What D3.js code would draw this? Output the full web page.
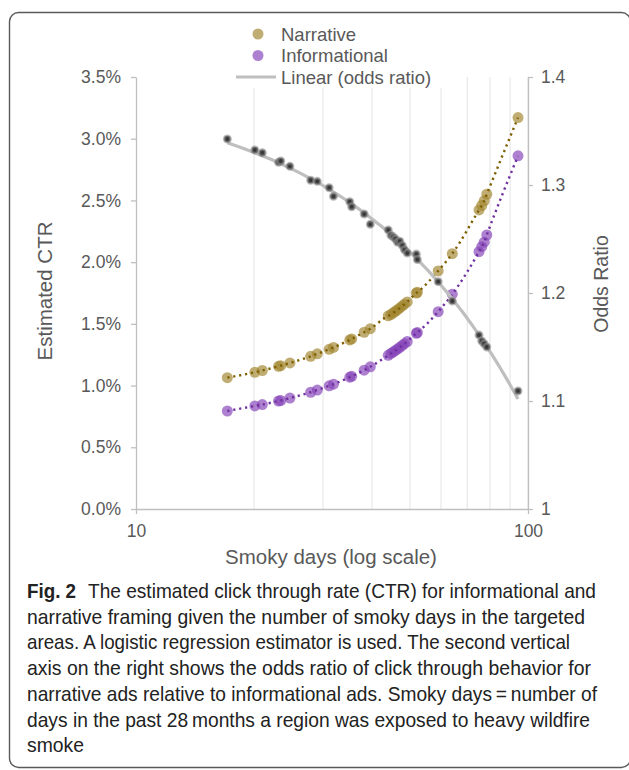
<!DOCTYPE html>
<html><head><meta charset="utf-8">
<script src="https://cdn.jsdelivr.net/npm/d3@7"></script>
<style>
body{margin:0;background:#fff}
svg text{font-family:"Liberation Sans",Arial,sans-serif}
</style>
</head><body>
<svg id="c" width="629" height="770"></svg>
<script>
// ---- data ----
const smokyDays = [17.1, 20.1, 21.0, 23.1, 23.4, 24.7, 27.9, 29.0, 31.1, 31.9, 35.1, 35.5, 38.2, 39.6,
  44.0, 44.7, 45.3, 45.9, 46.5, 47.1, 47.8, 48.4, 49.2, 51.9, 52.2, 59.0, 64.1, 75.0, 76.2, 77.3, 78.5, 94.3];
const narrativeCTR = [1.064, 1.108, 1.122, 1.156, 1.161, 1.183, 1.237, 1.257, 1.294, 1.309, 1.370, 1.378, 1.432, 1.461,
  1.565, 1.575, 1.589, 1.602, 1.615, 1.629, 1.645, 1.659, 1.678, 1.750, 1.756, 1.929, 2.069, 2.423, 2.459, 2.497, 2.550, 3.171];
const informationalCTR = [0.794, 0.835, 0.846, 0.875, 0.879, 0.899, 0.946, 0.964, 0.998, 1.011, 1.068, 1.075, 1.125, 1.152,
  1.245, 1.260, 1.272, 1.285, 1.297, 1.310, 1.325, 1.339, 1.357, 1.424, 1.430, 1.599, 1.740, 2.085, 2.125, 2.162, 2.220, 2.861];
const oddsRatio = [1.3426, 1.3324, 1.3299, 1.3210, 1.3222, 1.3173, 1.3044, 1.3034, 1.2975, 1.2895, 1.2845, 1.2799, 1.2731, 1.2636,
  1.2583, 1.2535, 1.2520, 1.2500, 1.2470, 1.2480, 1.2440, 1.2400, 1.2370, 1.2360, 1.2310, 1.2105, 1.1926, 1.1610, 1.1556, 1.1530, 1.1500, 1.1093];
const ctrTicks = [0, 0.5, 1.0, 1.5, 2.0, 2.5, 3.0, 3.5];
const oddsTicks = [1, 1.1, 1.2, 1.3, 1.4];
const xTickLabels = [10, 100];
const xGrid = [20, 30, 40, 50, 60, 70, 80, 90, 100];
const legendLabels = ["Narrative", "Informational", "Linear (odds ratio)"];
const captionLines = [
  "narrative framing given the number of smoky days in the targeted",
  "areas. A logistic regression estimator is used. The second vertical",
  "axis on the right shows the odds ratio of click through behavior for",
  "narrative ads relative to informational ads. Smoky days\u2009=\u2009number of",
  "days in the past 28\u2009months a region was exposed to heavy wildfire",
  "smoke"
];
const captionFirstBold = "Fig. 2";
const captionFirstRest = "The estimated click through rate (CTR) for informational and";

// ---- drawing ----
const svg = d3.select("#c");
const TXT = "#595959", AX = "#BFBFBF";
const x = d3.scaleLog().domain([10, 100]).range([136, 528]);
const yL = d3.scaleLinear().domain([0, 3.5]).range([509, 77]);
const yR = d3.scaleLinear().domain([1, 1.4]).range([509, 77]);

// frame
svg.append("rect").attr("x", 9.5).attr("y", 12.5).attr("width", 621).attr("height", 755)
  .attr("rx", 9).attr("fill", "none").attr("stroke", "#5a5a5a").attr("stroke-width", 1.4);

// grid
svg.append("g").selectAll("line").data(xGrid).join("line")
  .attr("x1", d => x(d)).attr("x2", d => x(d)).attr("y1", yL(3.5)).attr("y2", yL(0))
  .attr("stroke", "#EAEAEA").attr("stroke-width", 1.3);

// axes
function styleAxis(g) {
  g.select(".domain").attr("stroke", AX).attr("stroke-width", 1.3);
  g.selectAll(".tick line").attr("stroke", AX).attr("stroke-width", 1.3);
  g.selectAll(".tick text").attr("fill", TXT).attr("font-size", 17.5)
    .attr("font-family", "Liberation Sans, Arial, sans-serif");
}
svg.append("g").attr("transform", "translate(136,0)")
  .call(d3.axisLeft(yL).tickValues(ctrTicks).tickFormat(d => d.toFixed(1) + "%").tickSize(5).tickSizeOuter(0).tickPadding(10))
  .call(styleAxis);
svg.append("g").attr("transform", "translate(528,0)")
  .call(d3.axisRight(yR).tickValues(oddsTicks).tickFormat(d => d === 1 ? "1" : d.toFixed(1)).tickSize(5).tickSizeOuter(0).tickPadding(8))
  .call(styleAxis);
svg.append("g").attr("transform", "translate(0,509)")
  .call(d3.axisBottom(x).tickValues(xTickLabels).tickFormat(d3.format("d")).tickSize(5).tickSizeOuter(0).tickPadding(11))
  .call(styleAxis);

// axis titles
svg.append("text").attr("x", 331).attr("y", 564).attr("text-anchor", "middle")
  .attr("font-size", 20.5).attr("fill", TXT).text("Smoky days (log scale)");
svg.append("text").attr("transform", "translate(52,291) rotate(-90)").attr("text-anchor", "middle")
  .attr("font-size", 20.5).attr("fill", TXT).text("Estimated CTR");
svg.append("text").attr("transform", "translate(608,284) rotate(-90)").attr("text-anchor", "middle")
  .attr("font-size", 19.5).attr("fill", TXT).text("Odds Ratio");

const rows = smokyDays.map((d, i) => ({ d, n: narrativeCTR[i], inf: informationalCTR[i], or: oddsRatio[i] }))
  .sort((a, b) => a.d - b.d);

// points
const NCOL = "#A28630", ICOL = "#8645B8";
svg.append("g").selectAll("circle").data(rows).join("circle")
  .attr("cx", r => x(r.d)).attr("cy", r => yL(r.n)).attr("r", 5.5).attr("fill", NCOL).attr("fill-opacity", 0.68);
svg.append("g").selectAll("circle").data(rows).join("circle")
  .attr("cx", r => x(r.d)).attr("cy", r => yL(r.inf)).attr("r", 5.5).attr("fill", ICOL).attr("fill-opacity", 0.68);

// dotted model lines
const lineN = d3.line().x(r => x(r.d)).y(r => yL(r.n)).curve(d3.curveMonotoneX);
const lineI = d3.line().x(r => x(r.d)).y(r => yL(r.inf)).curve(d3.curveMonotoneX);
svg.append("path").attr("d", lineN(rows)).attr("fill", "none").attr("stroke", "#7F6000")
  .attr("stroke-width", 2.4).attr("stroke-dasharray", "2.2,3.8");
svg.append("path").attr("d", lineI(rows)).attr("fill", "none").attr("stroke", "#7030A0")
  .attr("stroke-width", 2.4).attr("stroke-dasharray", "2.2,3.8");

// linear trendline of odds ratio (least squares on the odds data)
const mx = d3.mean(rows, r => r.d), my = d3.mean(rows, r => r.or);
const slope = d3.sum(rows, r => (r.d - mx) * (r.or - my)) / d3.sum(rows, r => (r.d - mx) ** 2);
const icpt = my - slope * mx;
const dMin = d3.min(rows, r => r.d), dMax = d3.max(rows, r => r.d);
const trendPts = d3.range(0, 81).map(k => dMin + (dMax - dMin) * k / 80);
svg.append("path")
  .attr("d", d3.line().x(d => x(d)).y(d => yR(icpt + slope * d))(trendPts))
  .attr("fill", "none").attr("stroke", "#BFBFBF").attr("stroke-width", 3.2);

// odds points
svg.append("g").selectAll("circle").data(rows).join("circle")
  .attr("cx", r => x(r.d)).attr("cy", r => yR(r.or)).attr("r", 3.2)
  .attr("fill", "#383838").attr("stroke", "#8c8c8c").attr("stroke-opacity", 0.6).attr("stroke-width", 2.6);

// legend
const lg = svg.append("g");
lg.append("rect").attr("x", 228).attr("y", 20).attr("width", 215).attr("height", 68).attr("fill", "#fff");
lg.append("circle").attr("cx", 258).attr("cy", 34).attr("r", 5.5).attr("fill", NCOL).attr("fill-opacity", 0.68);
lg.append("circle").attr("cx", 258).attr("cy", 55.5).attr("r", 5.5).attr("fill", ICOL).attr("fill-opacity", 0.68);
lg.append("line").attr("x1", 236).attr("x2", 276).attr("y1", 77).attr("y2", 77).attr("stroke", "#BFBFBF").attr("stroke-width", 3.2);
lg.selectAll("text").data(legendLabels).join("text")
  .attr("x", 281).attr("y", (d, i) => 40.5 + i * 21.5).attr("font-size", 18.5).attr("fill", TXT).text(d => d);

// caption (condensed look: smaller font stretched vertically)
const CF = "'Noto Sans', 'Open Sans', sans-serif";
const CS = 16.5, SY = 1.22;
const capEnds = [585, 570, 591, 597, 590, 84];
function capText(xp, yp, w, bold, t) {
  svg.append("text").attr("transform", `translate(${xp},${yp}) scale(1,${SY})`)
    .attr("font-family", CF).attr("font-weight", bold ? "bold" : "normal")
    .attr("font-size", CS).attr("fill", "#222").attr("textLength", w).attr("lengthAdjust", "spacingAndGlyphs")
    .text(t);
}
capText(27, 598, 49, true, captionFirstBold);
capText(88, 598, 508, false, captionFirstRest);
captionLines.forEach((t, i) => capText(27, 598 + (i + 1) * 25.7, capEnds[i] - 27, false, t));
</script>
</body></html>
